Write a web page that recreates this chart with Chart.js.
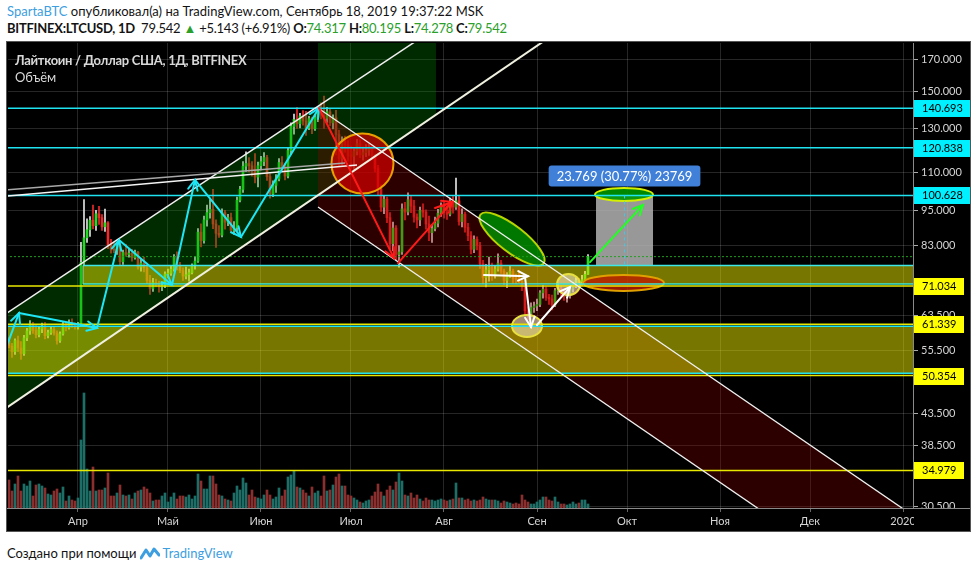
<!DOCTYPE html>
<html>
<head>
<meta charset="utf-8">
<script src="https://cdn.jsdelivr.net/npm/chart.js@4.4.1/dist/chart.umd.min.js"></script>
<style>
  body { margin: 0; width: 977px; height: 572px; background: #fff; position: relative; overflow: hidden; font-family: 'Lato', 'Open Sans', sans-serif; }
  #hdr1, #hdr2 { position: absolute; left: 7px; font-size: 13px; color: #131313; white-space: nowrap; }
  #hdr1 { top: 3px; }
  #hdr2 { top: 20px; letter-spacing: -0.25px; }
  .blue { color: #3d9ee0; }
  .g { color: #2aa02a; }
  #wrap { position: absolute; left: 6px; top: 41px; width: 963px; height: 489px; background: #000; border: 1px solid #555; }
  #wrap canvas { position: absolute; left: 0; top: 0; }
  #leg1, #leg2 { position: absolute; left: 8px; color: #d8d8d8; font-size: 13px; white-space: nowrap; }
  #leg1 { top: 10px; font-weight: bold; letter-spacing: -0.3px; }
  #leg2 { top: 27px; }
  #foot { position: absolute; left: 7px; top: 545px; font-size: 13px; color: #131313; white-space: nowrap; display: flex; align-items: center; }
  #foot svg { margin: 0 2px 0 4px; }
</style>
</head>
<body>
<div id="hdr1"><span class="blue">SpartaBTC</span> опубликовал(а) на TradingView.com, Сентябрь 18, 2019 19:37:22 MSK</div>
<div id="hdr2"><b>BITFINEX:LTCUSD, 1D</b>&nbsp; 79.542 <span class="g">▲</span> +5.143 (+6.91%) <b>O:</b><span class="g">74.317</span> <b>H:</b><span class="g">80.195</span> <b>L:</b><span class="g">74.278</span> <b>C:</b><span class="g">79.542</span></div>
<div id="wrap">
  <canvas id="myChart" width="963" height="489"></canvas>
  <div id="leg1">Лайткоин / Доллар США, 1Д, BITFINEX</div>
  <div id="leg2">Объём</div>
</div>
<div id="foot">Создано при помощи<svg width="20" height="14" viewBox="0 0 20 14"><path d="M1 12 L6 4 L10 10 L14 3 L19 9" fill="none" stroke="#3d9ee0" stroke-width="3" stroke-linejoin="round" stroke-linecap="round"/></svg><span class="blue">TradingView</span></div>

<script>
// daily candles, first one is Mar 9 2019 (day -23, day 0 = Apr 1)
const firstDay = -23;

const opens = [
  57.5, 56.4, 55.2, 57.6, 56.0, 54.8, 58.2, 59.8, 61.4, 59.9, 58.9, 60.2, 60.9, 58.7, 59.4, 60.1, 59.3, 57.6, 59.1, 61.3, 60.5, 61.6, 61.1,
  60.7, 61.3, 77.8, 85.5, 88.2, 91.5, 89.6, 93.8, 92.4, 89.2, 90.6, 83.2, 81.8, 81.5, 82.9, 78.0, 80.8, 80.2, 80.6, 79.2, 80.9, 76.4, 77.6, 76.2, 72.6, 70.4, 72.0, 71.6, 70.8, 71.2,
  74.4, 74.6, 75.8, 79.4, 76.6, 75.4, 73.8, 74.2, 74.8, 76.8, 78.2, 87.4, 84.6, 91.6, 94.2, 95.4, 90.2, 87.0, 86.4, 94.2, 90.8, 92.4, 88.0, 89.0, 98.8, 103.0, 112.6, 113.8, 112.8, 111.2, 108.0,
  112.8, 114.6, 116.4, 108.2, 101.2, 104.6, 107.2, 114.2, 112.4, 108.4, 119.6, 131.2, 134.8, 132.6, 136.6, 134.0, 130.4, 135.2, 130.0, 135.8, 139.4, 137.0, 135.4, 138.8, 133.0, 135.6, 127.2, 116.0, 123.8, 122.2,
  117.4, 117.0, 119.2, 122.8, 117.6, 118.6, 119.8, 121.2, 117.2, 111.6, 103.2, 96.2, 99.2, 92.4, 83.6, 88.8, 80.2, 81.0, 95.6, 94.4, 99.0, 96.6, 92.6, 91.6, 95.0, 94.4, 90.2, 87.2, 88.6, 90.4, 94.0,
  96.6, 94.2, 93.6, 98.4, 96.2, 98.6, 91.0, 93.6, 89.0, 86.2, 81.8, 85.0, 83.0, 77.4, 73.4, 75.6, 76.4, 74.2, 75.8, 77.6, 75.2, 72.6, 74.2, 75.2, 73.2, 72.8, 72.4, 71.0, 64.6, 63.8, 65.4,
  65.8, 66.2, 69.2, 70.2, 68.0, 67.6, 66.0, 69.8, 70.6, 69.4, 68.2, 68.8, 70.2, 71.4, 72.6, 72.2, 72.8, 74.317
];
const highs = [
  58.3, 57.0, 58.0, 58.6, 57.4, 58.8, 60.4, 62.2, 61.8, 61.0, 60.6, 61.6, 61.8, 60.0, 60.8, 60.6, 59.8, 59.6, 61.8, 61.9, 62.4, 62.6, 61.7,
  61.8, 84.0, 99.0, 92.0, 92.8, 97.0, 95.0, 96.5, 93.5, 95.5, 91.0, 85.0, 84.0, 83.8, 84.0, 81.6, 83.4, 82.0, 81.8, 81.6, 81.2, 79.0, 79.4, 76.8, 74.0, 73.2, 73.0, 72.4, 72.2, 75.0,
  75.8, 76.6, 80.2, 81.0, 77.8, 76.2, 76.4, 75.8, 77.4, 79.6, 88.6, 90.2, 93.0, 97.0, 99.0, 103.0, 91.6, 89.6, 95.6, 95.0, 93.6, 94.0, 91.0, 100.0, 104.2, 114.6, 119.0, 116.4, 114.6, 118.2, 114.4,
  117.0, 118.6, 117.4, 109.4, 106.4, 109.0, 116.0, 116.8, 113.6, 121.0, 133.0, 137.6, 141.0, 138.0, 139.4, 139.0, 136.4, 136.0, 137.4, 141.4, 143.6, 147.4, 141.2, 140.6, 137.2, 139.6, 129.4, 126.0, 126.4, 124.2,
  121.6, 120.4, 124.8, 124.6, 121.2, 122.4, 123.0, 122.2, 118.0, 113.0, 104.8, 100.4, 100.0, 94.2, 90.8, 89.6, 83.0, 97.4, 98.0, 101.6, 100.6, 98.8, 93.8, 96.2, 97.4, 95.2, 93.0, 89.8, 92.6, 95.4, 97.8,
  98.2, 96.6, 99.6, 100.2, 107.6, 100.4, 95.6, 94.4, 90.4, 87.6, 86.2, 85.8, 84.0, 78.4, 77.2, 79.4, 77.6, 76.6, 80.4, 78.4, 75.8, 74.8, 76.6, 75.8, 74.4, 75.4, 73.0, 71.8, 65.6, 66.6, 66.8,
  67.6, 69.8, 71.2, 70.8, 68.8, 68.6, 70.4, 71.8, 71.2, 70.0, 69.6, 71.0, 72.0, 73.4, 73.2, 74.0, 75.2, 80.195
];
const lows = [
  56.0, 54.0, 54.6, 55.2, 53.6, 54.4, 57.6, 59.0, 59.2, 58.2, 58.4, 59.4, 58.0, 58.2, 59.0, 58.8, 56.8, 57.2, 58.8, 59.8, 60.2, 60.6, 60.2,
  60.2, 61.0, 77.0, 84.0, 86.0, 88.5, 88.0, 90.0, 88.0, 87.6, 82.0, 80.6, 80.8, 80.2, 76.8, 77.2, 79.6, 79.4, 78.2, 78.8, 75.8, 75.2, 75.0, 71.8, 68.8, 69.6, 70.8, 69.4, 69.8, 70.6,
  73.4, 74.0, 75.2, 75.6, 74.8, 72.6, 73.0, 72.4, 74.4, 75.8, 77.8, 82.6, 83.8, 89.4, 92.2, 88.6, 82.4, 85.6, 85.8, 88.4, 89.6, 87.2, 86.6, 87.8, 98.2, 101.8, 110.4, 110.2, 108.4, 105.6, 104.0,
  111.0, 112.8, 106.6, 99.6, 100.2, 101.8, 106.4, 110.2, 106.8, 107.6, 117.8, 127.4, 130.2, 130.4, 131.8, 126.8, 129.6, 127.6, 129.2, 133.6, 135.0, 130.2, 133.2, 131.6, 130.0, 117.6, 112.4, 113.2, 118.8, 114.8,
  111.4, 110.8, 117.6, 116.4, 115.2, 116.8, 117.4, 115.6, 110.2, 100.8, 94.6, 93.8, 90.6, 82.0, 81.4, 78.6, 76.4, 80.2, 91.6, 93.4, 94.2, 90.8, 88.8, 89.6, 92.6, 88.4, 84.6, 84.0, 87.8, 89.2, 92.8,
  92.2, 91.8, 93.0, 94.0, 95.4, 89.8, 89.2, 87.4, 84.6, 80.4, 80.8, 81.6, 76.0, 71.6, 70.8, 72.4, 72.6, 73.2, 75.2, 74.6, 71.4, 70.6, 73.4, 71.8, 71.6, 72.0, 69.8, 63.6, 62.4, 63.2, 64.2,
  64.6, 65.6, 67.8, 67.2, 66.2, 64.8, 65.6, 68.8, 68.4, 67.2, 66.8, 67.8, 69.4, 70.6, 71.4, 71.2, 72.0, 74.278
];
const closes = [
  56.4, 55.2, 57.6, 56.0, 54.8, 58.2, 59.8, 61.4, 59.9, 58.9, 60.2, 60.9, 58.7, 59.4, 60.1, 59.3, 57.6, 59.1, 61.3, 60.5, 61.6, 61.1, 60.7,
  61.3, 77.8, 85.5, 88.2, 91.5, 89.6, 93.8, 92.4, 89.2, 90.6, 83.2, 81.8, 81.5, 82.9, 78.0, 80.8, 80.2, 80.6, 79.2, 80.9, 76.4, 77.6, 76.2, 72.6, 70.4, 72.0, 71.6, 70.8, 71.2, 74.4,
  74.6, 75.8, 79.4, 76.6, 75.4, 73.8, 74.2, 74.8, 76.8, 78.2, 87.4, 84.6, 91.6, 94.2, 95.4, 90.2, 87.0, 86.4, 94.2, 90.8, 92.4, 88.0, 89.0, 98.8, 103.0, 112.6, 113.8, 112.8, 111.2, 108.0, 112.8,
  114.6, 116.4, 108.2, 101.2, 104.6, 107.2, 114.2, 112.4, 108.4, 119.6, 131.2, 134.8, 132.6, 136.6, 134.0, 130.4, 135.2, 130.0, 135.8, 139.4, 137.0, 135.4, 138.8, 133.0, 135.6, 127.2, 116.0, 123.8, 122.2, 117.4,
  117.0, 119.2, 122.8, 117.6, 118.6, 119.8, 121.2, 117.2, 111.6, 103.2, 96.2, 99.2, 92.4, 83.6, 88.8, 80.2, 81.0, 95.6, 94.4, 99.0, 96.6, 92.6, 91.6, 95.0, 94.4, 90.2, 87.2, 88.6, 90.4, 94.0, 96.6,
  94.2, 93.6, 98.4, 96.2, 98.6, 91.0, 93.6, 89.0, 86.2, 81.8, 85.0, 83.0, 77.4, 73.4, 75.6, 76.4, 74.2, 75.8, 77.6, 75.2, 72.6, 74.2, 75.2, 73.2, 72.8, 72.4, 71.0, 64.6, 63.8, 65.4, 65.8,
  66.2, 69.2, 70.2, 68.0, 67.6, 66.0, 69.8, 70.6, 69.4, 68.2, 68.8, 70.2, 71.4, 72.6, 72.2, 72.8, 74.317, 79.542
];
// volume, arbitrary units
const volumes = [
  28, 17, 24, 32, 17, 24, 22, 27, 12, 23, 24, 22, 20, 14, 13, 17, 19, 15, 21, 7, 12, 8, 7,
  10, 68, 115, 39, 17, 41, 17, 18, 18, 20, 35, 12, 12, 15, 23, 13, 12, 13, 9, 15, 17, 18, 21, 19, 15, 7, 8, 8, 12, 15,
  6, 11, 15, 9, 12, 12, 11, 13, 9, 12, 34, 27, 19, 19, 32, 32, 24, 13, 12, 9, 8, 7, 15, 22, 18, 30, 25, 13, 18, 11, 10,
  9, 13, 18, 13, 9, 11, 20, 12, 18, 31, 33, 37, 21, 20, 18, 15, 12, 21, 15, 17, 12, 32, 17, 18, 23, 31, 34, 22, 22, 13,
  12, 10, 8, 6, 5, 7, 8, 12, 16, 24, 16, 12, 18, 22, 18, 26, 35, 27, 13, 12, 15, 10, 13, 9, 7, 10, 8, 8, 7, 8, 9,
  8, 7, 8, 9, 25, 10, 10, 8, 9, 7, 8, 7, 8, 11, 9, 8, 8, 8, 7, 5, 7, 6, 5, 4, 5, 4, 13, 8, 6, 4, 4,
  6, 8, 11, 11, 8, 7, 11, 6, 4, 4, 3, 4, 6, 4, 5, 8, 8, 4
];

const monthTicks = [0, 30, 61, 91, 122, 153, 183, 214, 244, 275];
const monthLabels = ['Апр', 'Май', 'Июн', 'Июл', 'Авг', 'Сен', 'Окт', 'Ноя', 'Дек', '2020'];
const priceTicks = [30.5, 38.5, 43.5, 55.5, 63.5, 83, 95, 110, 130, 150, 170];
const cyanLevels = [140.693, 120.838, 100.628];
const yellowLevels = [71.034, 61.339, 50.354, 34.979];
const lastPrice = 79.542;

// drawing tools, anchored as [day, price]
const greenChannelUp = [[-23.67, 64.04], [114, 184.0]];
const greenChannelLow = [[-23.67, 44.54], [160.67, 190.0]];
const greenFill = [[-23.67, 64.04], [119.33, 191.7], [119.33, 137.2], [-23.67, 44.54]];
const longTarget = [[80, 140.8], [119.33, 200]];
const redChannelUp = [[80, 140.8], [290.67, 26.67]];
const redChannelLow = [[80, 96.25], [290.67, 18.23]];
const zoneUpper = { from: 1.67, low: 71.6, high: 76.859 };
const zoneLower = { low: 50.81, high: 60.88 };
const greyLines = [[[-23.67, 102.8], [89, 114.0]], [[-23.67, 100.4], [93, 113.1]]];
const cyanPath = [[-24, 55.98], [-19.67, 64.04], [6.33, 60.46], [13.67, 84.8], [31.33, 71.33], [39, 106.8], [54.33, 85.8], [80.33, 140.8]];
const redArrows = [[[80.33, 140.8], [105.33, 79.1]], [[106.67, 77.6], [124.67, 98.1]], [[119, 95.9], [124.67, 98.1]]];
const whiteArrows = [[[135.33, 74.1], [150, 73.8]], [[149, 73.56], [151, 60.69]], [[153, 61.16], [164, 70.77]]];
const greenArrow = [[170.67, 77.9], [188.33, 97.0]];
const priceRange = { from: 172.67, to: 191.67, low: 76.859, high: 100.628, text: '23.769 (30.77%) 23769' };
const ellipses = [
  { d: 94.83, p: 113.8, rx: 31, ry: 30, rot: 0, fill: 'rgba(215,0,0,0.7)', stroke: '#e8a000' },
  { d: 144.67, p: 85.1, rx: 40, ry: 13, rot: 0.66, fill: 'rgba(0,150,0,0.8)', stroke: '#b8d400' },
  { d: 182, p: 101.0, rx: 29, ry: 6.5, rot: 0, fill: 'rgba(0,150,0,0.9)', stroke: '#d4f000' },
  { d: 181.83, p: 71.9, rx: 40.5, ry: 8, rot: 0, fill: 'rgba(190,30,0,0.8)', stroke: '#e0a000' },
  { d: 163.5, p: 71.47, rx: 11.5, ry: 10.5, rot: 0, fill: 'rgba(240,228,190,0.6)', stroke: '#e8e040' },
  { d: 149.67, p: 60.93, rx: 15, ry: 11, rot: 0, fill: 'rgba(240,228,190,0.6)', stroke: '#e8e040' }
];

const upColor = '#22dc22', downColor = '#ee2a2a';
const isUp = closes.map((c, i) => c >= opens[i]);

function drawArrow(ctx, x1, y1, x2, y2, color, w) {
    ctx.strokeStyle = color;
    ctx.lineWidth = w;
    ctx.lineCap = 'round';
    ctx.beginPath(); ctx.moveTo(x1, y1); ctx.lineTo(x2, y2); ctx.stroke();
    const ang = Math.atan2(y2 - y1, x2 - x1), L = 11, s = 0.45;
    ctx.beginPath();
    ctx.moveTo(x2 - L * Math.cos(ang - s), y2 - L * Math.sin(ang - s));
    ctx.lineTo(x2, y2);
    ctx.lineTo(x2 - L * Math.cos(ang + s), y2 - L * Math.sin(ang + s));
    ctx.stroke();
}

// all the hand drawn tools of the idea
const drawings = {
    id: 'drawings',
    afterDatasetsDraw(chart) {
        const { ctx, chartArea: a, scales } = chart;
        const X = d => scales.x.getPixelForValue(d);
        const Y = p => scales.y.getPixelForValue(p);
        const line = (pts, color, w, dash) => {
            ctx.strokeStyle = color; ctx.lineWidth = w; ctx.setLineDash(dash || []);
            ctx.beginPath();
            pts.forEach(([d, p], i) => i ? ctx.lineTo(X(d), Y(p)) : ctx.moveTo(X(d), Y(p)));
            ctx.stroke();
            ctx.setLineDash([]);
        };
        const hline = (p, color, w, dash, from) => line([[from ?? -40, p], [300, p]], color, w, dash);

        ctx.save();
        ctx.beginPath();
        ctx.rect(a.left, a.top, a.right - a.left, a.bottom - a.top);
        ctx.clip();

        // green channel + long position target
        ctx.fillStyle = 'rgba(0,140,0,0.3)';
        ctx.beginPath();
        greenFill.forEach(([d, p], i) => i ? ctx.lineTo(X(d), Y(p)) : ctx.moveTo(X(d), Y(p)));
        ctx.closePath();
        ctx.rect(X(longTarget[0][0]), Y(longTarget[1][1]), X(longTarget[1][0]) - X(longTarget[0][0]), Y(longTarget[0][1]) - Y(longTarget[1][1]));
        ctx.fill();

        // red falling channel
        ctx.fillStyle = 'rgba(150,0,0,0.3)';
        ctx.beginPath();
        ctx.moveTo(X(redChannelUp[0][0]), Y(redChannelUp[0][1]));
        ctx.lineTo(X(redChannelUp[1][0]), Y(redChannelUp[1][1]));
        ctx.lineTo(X(redChannelLow[1][0]), Y(redChannelLow[1][1]));
        ctx.lineTo(X(redChannelLow[0][0]), Y(redChannelLow[0][1]));
        ctx.closePath();
        ctx.fill();

        // support zones
        ctx.fillStyle = 'rgba(235,235,0,0.5)';
        ctx.fillRect(X(zoneUpper.from), Y(zoneUpper.high), a.right - X(zoneUpper.from), Y(zoneUpper.low) - Y(zoneUpper.high));
        ctx.fillRect(a.left, Y(zoneLower.high), a.right - a.left, Y(zoneLower.low) - Y(zoneLower.high));

        // price range box
        const rx1 = X(priceRange.from), rx2 = X(priceRange.to);
        const ry1 = Y(priceRange.high), ry2 = Y(priceRange.low);
        ctx.fillStyle = 'rgba(185,185,185,0.82)';
        ctx.fillRect(rx1, ry1, rx2 - rx1, ry2 - ry1);

        // ellipses
        ellipses.forEach(e => {
            ctx.beginPath();
            ctx.ellipse(X(e.d), Y(e.p), e.rx, e.ry, e.rot, 0, Math.PI * 2);
            ctx.fillStyle = e.fill;
            ctx.fill();
            ctx.strokeStyle = e.stroke;
            ctx.lineWidth = 2;
            ctx.stroke();
        });

        // horizontal levels
        hline(lastPrice, '#1fa01f', 1, [2, 2]);
        cyanLevels.forEach(p => hline(p, '#1fe3f0', 1.5));
        yellowLevels.forEach(p => hline(p, '#e8e800', 1.5));
        hline(zoneUpper.high, '#3fe8e8', 1.5, null, zoneUpper.from);
        hline(zoneUpper.low, '#3fe8d0', 1.5, null, zoneUpper.from);
        line([[zoneUpper.from, zoneUpper.low], [zoneUpper.from, zoneUpper.high]], '#8fe08f', 1);
        hline(zoneLower.high, '#1fe3f0', 1.5);
        hline(zoneLower.low, '#1fe3f0', 1.5);

        // dashed middle of the range box
        line([[(priceRange.from + priceRange.to) / 2, priceRange.high], [(priceRange.from + priceRange.to) / 2, priceRange.low]], '#40c8e8', 1, [3, 3]);

        // channel borders and the grey trend lines
        line(greenChannelUp, '#f0f0f0', 1.5);
        line(greenChannelLow, '#f0f0e0', 2);
        line(redChannelUp, '#f0f0f0', 1.3);
        line(redChannelLow, '#f0f0f0', 1.3);
        line(greyLines[0], '#a8a8a8', 1.5);
        line(greyLines[1], '#f4f4f4', 1.5);

        // arrows
        for (let i = 1; i < cyanPath.length; i++) {
            const [d1, p1] = cyanPath[i - 1], [d2, p2] = cyanPath[i];
            drawArrow(ctx, X(d1), Y(p1), X(d2), Y(p2), '#1fe6f5', 2);
        }
        redArrows.forEach(([s, e]) => drawArrow(ctx, X(s[0]), Y(s[1]), X(e[0]), Y(e[1]), '#ff1a1a', 2));
        whiteArrows.forEach(([s, e]) => drawArrow(ctx, X(s[0]), Y(s[1]), X(e[0]), Y(e[1]), '#ffffff', 2));
        drawArrow(ctx, X(greenArrow[0][0]), Y(greenArrow[0][1]), X(greenArrow[1][0]), Y(greenArrow[1][1]), '#22ff22', 2);

        ctx.restore();

        // label of the range box
        const cx = (rx1 + rx2) / 2;
        ctx.save();
        ctx.font = "13px 'Lato', 'Open Sans', sans-serif";
        const tw = ctx.measureText(priceRange.text).width + 16;
        ctx.fillStyle = '#4080d8';
        ctx.beginPath();
        ctx.roundRect(cx - tw / 2, ry1 - 30, tw, 21, 3);
        ctx.fill();
        ctx.fillStyle = '#ffffff';
        ctx.textAlign = 'center';
        ctx.textBaseline = 'middle';
        ctx.fillText(priceRange.text, cx, ry1 - 19);
        ctx.restore();
    },
    afterDraw(chart) {
        const { ctx, chartArea: a, scales } = chart;
        const W = chart.width, H = chart.height;
        ctx.save();
        // hide the half label under the time axis
        ctx.fillStyle = '#000';
        ctx.fillRect(a.right + 1, a.bottom + 1, W - a.right, H - a.bottom);
        ctx.strokeStyle = '#8a8a8a';
        ctx.lineWidth = 1;
        ctx.beginPath(); ctx.moveTo(0, a.bottom + 0.5); ctx.lineTo(W, a.bottom + 0.5); ctx.stroke();
        // level labels on the price axis
        ctx.font = "11px 'Lato', 'Open Sans', sans-serif";
        ctx.textBaseline = 'middle';
        const tag = (p, bg, right) => {
            const y = Math.round(scales.y.getPixelForValue(p));
            ctx.fillStyle = bg;
            ctx.fillRect(a.right + 1, y - 8, right - a.right - 1, 17);
            ctx.fillStyle = '#000';
            ctx.fillText(p.toFixed(3), a.right + 9, y + 0.5);
        };
        cyanLevels.forEach(p => tag(p, '#00f0ff', W));
        yellowLevels.forEach(p => tag(p, '#ffff00', W - 6));
        ctx.restore();
    }
};

function plotChart() {
    const ctx = document.getElementById('myChart').getContext('2d');
    Chart.defaults.font.family = "'Lato', 'Open Sans', sans-serif";

    const days = closes.map((c, i) => firstDay + i);
    const wicks = days.map((d, i) => ({ x: d, y: [lows[i], highs[i]] }));
    const bodies = days.map((d, i) => ({ x: d, y: [Math.min(opens[i], closes[i]), Math.max(opens[i], closes[i])] }));
    const vols = days.map((d, i) => ({ x: d, y: volumes[i] }));

    new Chart(ctx, {
        type: 'bar',
        data: {
            datasets: [
                {
                    label: 'Volume',
                    data: vols,
                    yAxisID: 'v',
                    backgroundColor: isUp.map(u => u ? '#1d6e66' : '#8a2e2e'),
                    barThickness: 2,
                    grouped: false,
                    order: 3
                },
                {
                    label: 'Wicks',
                    data: wicks,
                    yAxisID: 'y',
                    backgroundColor: isUp.map(u => u ? '#e2e2e2' : downColor),
                    barThickness: 1,
                    grouped: false,
                    order: 2
                },
                {
                    label: 'LTCUSD',
                    data: bodies,
                    yAxisID: 'y',
                    backgroundColor: isUp.map(u => u ? upColor : downColor),
                    barThickness: 2,
                    minBarLength: 1,
                    grouped: false,
                    order: 1
                }
            ]
        },
        options: {
            responsive: false,
            animation: false,
            layout: { padding: { top: 1, left: 1, right: 0, bottom: 0 } },
            plugins: { legend: { display: false }, tooltip: { enabled: false } },
            scales: {
                x: {
                    type: 'linear',
                    min: -23.33,
                    max: 278.33,
                    offset: false,
                    bounds: 'data',
                    afterBuildTicks: s => { s.ticks = monthTicks.map(v => ({ value: v })); },
                    afterFit: s => { s.height = 23; s.paddingLeft = 0; s.paddingRight = 0; },
                    ticks: {
                        autoSkip: false,
                        maxRotation: 0,
                        color: '#d4d4d4',
                        font: { size: 11 },
                        padding: 3,
                        callback: v => monthLabels[monthTicks.indexOf(v)]
                    },
                    grid: { color: 'rgba(255,255,255,0.15)', offset: false, tickLength: 4, tickColor: '#666' },
                    border: { color: '#8a8a8a' }
                },
                y: {
                    type: 'logarithmic',
                    position: 'right',
                    min: 30.27,
                    max: 180.8,
                    bounds: 'data',
                    afterBuildTicks: s => { s.ticks = priceTicks.map(v => ({ value: v })); },
                    afterFit: s => { s.width = 57; s.paddingTop = 0; s.paddingBottom = 0; },
                    ticks: {
                        autoSkip: false,
                        color: '#d4d4d4',
                        font: { size: 11 },
                        padding: 3,
                        callback: v => Number(v).toFixed(3)
                    },
                    grid: { color: 'rgba(255,255,255,0.15)', tickLength: 5, tickColor: '#aaa' },
                    border: { color: '#8a8a8a' }
                },
                v: { type: 'linear', display: false, min: 0, max: 465 }
            }
        },
        plugins: [drawings]
    });
}

plotChart();
</script>
</body>
</html>
